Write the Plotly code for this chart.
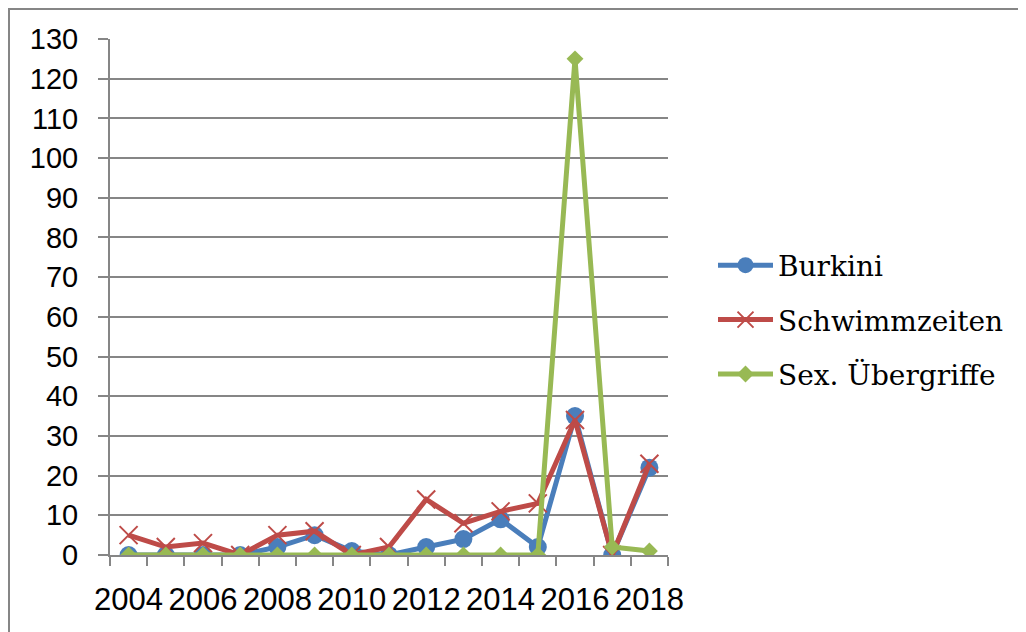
import plotly.graph_objects as go

years = list(range(2004, 2019))
burkini = [0, 0, 0, 0, 2, 5, 1, 0, 2, 4, 9, 2, 35, 0, 22]
schwimmzeiten = [5, 2, 3, 0, 5, 6, 0, 2, 14, 8, 11, 13, 34, 0, 23]
uebergriffe = [0, 0, 0, 0, 0, 0, 0, 0, 0, 0, 0, 0, 125, 2, 1]
x_labels = [2004, 2006, 2008, 2010, 2012, 2014, 2016, 2018]
y_ticks = list(range(0, 131, 10))

# page body has an 8px margin; figure is sized to fit the remaining window
OFF = 8
W, H = 1026 - OFF, 632 - OFF
L, T = 110 - OFF, 39 - OFF
pw, ph = 558, 516
R, B = W - L - pw, H - T - ph

def px_x(x):  # reference pixel x -> paper x
    return (x - OFF - L) / pw

def px_y(y):  # reference pixel y -> paper y
    return (T + ph - (y - OFF)) / ph

fig = go.Figure()
fig.add_trace(go.Scatter(x=years, y=burkini, name="Burkini", mode="lines+markers",
                         legendgroup="a",
                         line=dict(color="#4A7EBB", width=5),
                         marker=dict(symbol="circle", size=18, color="#4A7EBB")))
fig.add_trace(go.Scatter(x=years, y=schwimmzeiten, name="Schwimmzeiten", mode="lines+markers",
                         legendgroup="b",
                         line=dict(color="#BE4B48", width=5),
                         marker=dict(symbol="x-thin", size=18, line=dict(color="#BE4B48", width=2))))
fig.add_trace(go.Scatter(x=years, y=uebergriffe, name="Sex. Übergriffe", mode="lines+markers",
                         legendgroup="c",
                         line=dict(color="#98B954", width=5),
                         marker=dict(symbol="diamond", size=13, color="#98B954")))

xtick_font = dict(family="Liberation Sans, sans-serif", size=31, color="black")
ytick_font = dict(family="Liberation Sans, sans-serif", size=29, color="black")

fig.update_layout(
    width=W, height=H,
    margin=dict(l=L, r=R, t=T, b=B, autoexpand=False),
    paper_bgcolor="white", plot_bgcolor="white",
    showlegend=True,
    legend=dict(x=px_x(713), xanchor="left", y=px_y(320), yanchor="middle",
                font=dict(family="DejaVu Serif, Liberation Serif, serif", size=28, color="black"),
                itemwidth=55, tracegroupgap=15, bgcolor="rgba(0,0,0,0)"),
    xaxis=dict(range=[2003.5, 2018.5], tickmode="array", tickvals=x_labels,
               ticktext=[str(v) for v in x_labels], ticks="", showgrid=False,
               showline=True, linecolor="#868686", linewidth=2, zeroline=False,
               automargin=False,
               tickfont=xtick_font, ticklabelstandoff=16,
               minor=dict(ticks="outside", tick0=2003.5, dtick=1, ticklen=9,
                          tickcolor="#868686", tickwidth=2, showgrid=False)),
    yaxis=dict(range=[0, 130], tickmode="array", tickvals=y_ticks, showgrid=True,
               gridcolor="#868686", gridwidth=2, showline=True, linecolor="#868686",
               linewidth=2, ticks="outside", ticklen=10, tickcolor="#868686", tickwidth=2,
               zeroline=False, automargin=False, tickfont=ytick_font, ticklabelstandoff=14),
    shapes=[dict(type="rect", xref="paper", yref="paper",
                 x0=px_x(9), x1=px_x(1020),
                 y0=px_y(700), y1=px_y(9),
                 line=dict(color="#868686", width=2), fillcolor="rgba(0,0,0,0)", layer="below")],
)

fig.write_html("out.html")
